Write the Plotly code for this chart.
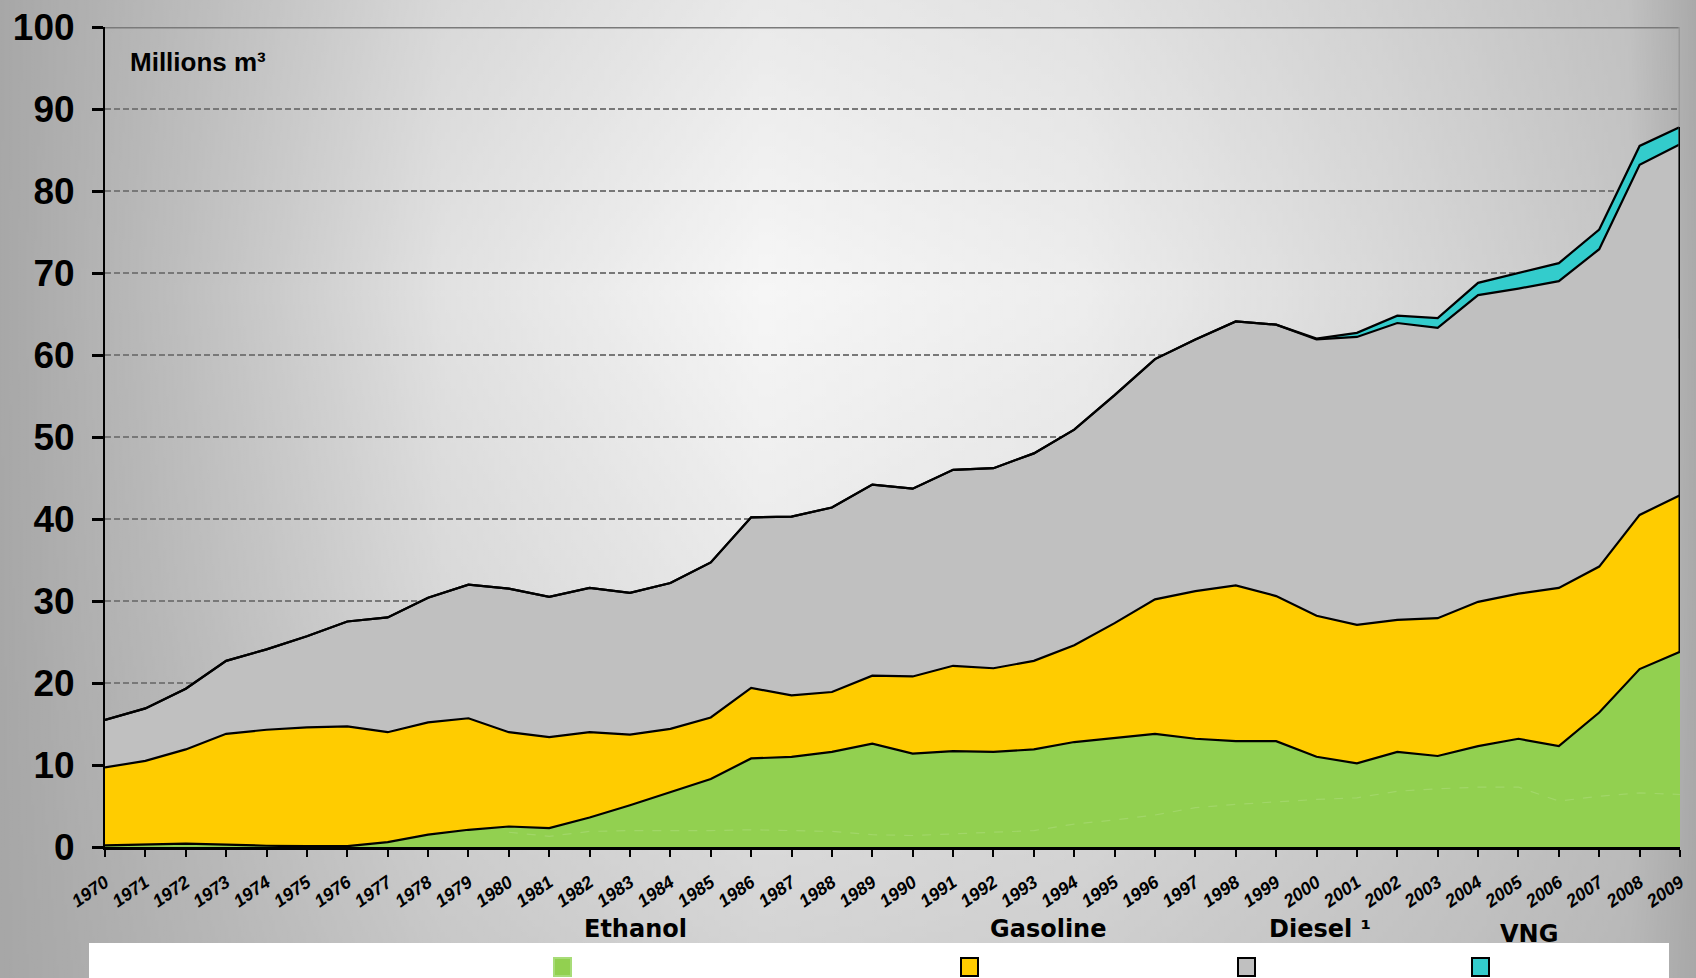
import base64
import plotly.graph_objects as go

# ---------------- data (millions m3) ----------------
years = list(range(1970, 2010))
ethanol = [0.2, 0.3, 0.4, 0.3, 0.15, 0.1, 0.1, 0.6, 1.5, 2.1,
           2.5, 2.3, 3.6, 5.1, 6.7, 8.3, 10.8, 11.0, 11.6, 12.6,
           11.4, 11.7, 11.6, 11.9, 12.8, 13.3, 13.8, 13.2, 12.9, 12.9,
           11.0, 10.2, 11.6, 11.1, 12.3, 13.2, 12.3, 16.4, 21.7, 23.8]
gasoline = [9.5, 10.2, 11.5, 13.5, 14.15, 14.5, 14.6, 13.4, 13.7, 13.6,
            11.5, 11.1, 10.4, 8.6, 7.7, 7.5, 8.6, 7.5, 7.3, 8.3,
            9.4, 10.4, 10.2, 10.8, 11.8, 14.0, 16.4, 18.0, 19.0, 17.7,
            17.2, 16.9, 16.1, 16.8, 17.6, 17.7, 19.3, 17.8, 18.8, 19.1]
diesel = [5.8, 6.4, 7.4, 8.9, 9.8, 11.1, 12.8, 14.0, 15.2, 16.3,
          17.5, 17.1, 17.6, 17.3, 17.8, 18.9, 20.8, 21.8, 22.5, 23.3,
          22.9, 23.9, 24.4, 25.3, 26.3, 27.8, 29.3, 30.7, 32.2, 33.1,
          33.7, 35.1, 36.2, 35.4, 37.4, 37.2, 37.4, 38.7, 42.7, 42.8]
vng = [0] * 30 + [0.1, 0.5, 0.9, 1.2, 1.5, 1.9, 2.2, 2.4, 2.3, 2.1]
# faint inner line inside the ethanol area (1980-2009)
ethanol_inner_years = list(range(1980, 2010))
ethanol_inner = [1.8, 1.3, 1.9, 2.0, 2.0, 2.0, 2.1, 2.0, 1.9, 1.5,
                 1.4, 1.6, 1.8, 2.0, 2.8, 3.3, 3.9, 4.8, 5.2, 5.5,
                 5.8, 6.0, 6.8, 7.1, 7.3, 7.3, 5.6, 6.2, 6.6, 6.4]

series_names = ["Ethanol", "Gasoline", "Diesel ¹", "VNG"]
series_colors = ["#92d050", "#ffcc00", "#c0c0c0", "#33cccc"]
y_ticks = list(range(0, 101, 10))
unit_label = "Millions m³"

# ---------------- layout geometry ----------------
W, H = 1696, 978
ML, MR, MT, MB = 105, 16, 27, 131
PW, PH = W - ML - MR, H - MT - MB


def px_x(px):
    return (px - ML) / PW


def px_y(py):
    return (H - MB - py) / PH


fig = go.Figure()
for name, vals, col in zip(series_names, [ethanol, gasoline, diesel, vng], series_colors):
    fig.add_trace(go.Scatter(
        x=years, y=vals, name=name, stackgroup="one", mode="lines",
        line=dict(color="black", width=2.2), fillcolor=col,
        hoverinfo="skip", showlegend=False,
    ))

fig.add_trace(go.Scatter(
    x=ethanol_inner_years, y=ethanol_inner, mode="lines",
    line=dict(color="rgba(255,255,255,0.14)", width=1.2, dash="dash"),
    hoverinfo="skip", showlegend=False,
))

# background gradient (horizontal profile modulated vertically)
h_stops = [(0.0, 0.02), (0.12, 0.31), (0.26, 0.67), (0.45, 0.9), (0.64, 0.8),
           (0.83, 0.56), (0.96, 0.36), (0.99, 0.13), (1.0, 0.05)]
v_stops = [(0.0, 0.84), (0.3, 1.0), (0.6, 0.85), (0.87, 0.64), (1.0, 0.55)]
h_svg = "".join(f'<stop offset="{o}" stop-color="#ffffff" stop-opacity="{a}"/>' for o, a in h_stops)
v_svg = "".join(f'<stop offset="{o}" stop-color="#ffffff" stop-opacity="{a}"/>' for o, a in v_stops)
svg = (
    '<svg xmlns="http://www.w3.org/2000/svg" width="1696" height="978">'
    '<defs>'
    f'<linearGradient id="h" x1="0" y1="0" x2="1" y2="0">{h_svg}</linearGradient>'
    f'<linearGradient id="v" x1="0" y1="0" x2="0" y2="1">{v_svg}</linearGradient>'
    '<mask id="m"><rect x="0" y="0" width="1696" height="978" fill="url(#v)"/></mask>'
    '</defs>'
    '<rect x="0" y="0" width="1696" height="978" fill="#a6a6a6"/>'
    '<rect x="0" y="0" width="1696" height="978" fill="url(#h)" mask="url(#m)"/>'
    '</svg>'
)
src = "data:image/svg+xml;base64," + base64.b64encode(svg.encode()).decode()

shapes = []
shapes.append(dict(type="line", xref="x", yref="y", x0=years[0], x1=years[-1], y0=100, y1=100,
                   line=dict(color="#7a7a7a", width=3), layer="above"))
shapes.append(dict(type="line", xref="x", yref="y", x0=years[-1], x1=years[-1], y0=62, y1=100,
                   line=dict(color="#999999", width=3), layer="above"))
top_last = ethanol[-1] + gasoline[-1] + diesel[-1] + vng[-1]
shapes.append(dict(type="line", xref="x", yref="y", x0=years[-1], x1=years[-1], y0=ethanol[-1], y1=top_last,
                   line=dict(color="black", width=3), layer="above"))
shapes.append(dict(type="rect", xref="paper", yref="paper", x0=px_x(89), x1=px_x(1669),
                   y0=px_y(943), y1=px_y(985), fillcolor="white", line=dict(width=0), layer="above"))

sq_x = [554, 961, 1238, 1472]
label_x = [635, 1048, 1320, 1529]
label_y = [929, 929, 929, 934]
annotations = []
for i, (name, col) in enumerate(zip(series_names, series_colors)):
    border = "#a8dc78" if i == 0 else "black"
    shapes.append(dict(type="rect", xref="paper", yref="paper",
                       x0=px_x(sq_x[i]), x1=px_x(sq_x[i] + 17), y0=px_y(976), y1=px_y(958),
                       fillcolor=col, line=dict(color=border, width=2), layer="above"))
    annotations.append(dict(text=name, xref="paper", yref="paper", x=px_x(label_x[i]), y=px_y(label_y[i]),
                            xanchor="center", yanchor="middle", showarrow=False,
                            font=dict(family="DejaVu Sans", size=24, color="black", weight="bold")))

annotations.append(dict(text=unit_label, xref="paper", yref="paper", x=px_x(128), y=px_y(62),
                        xanchor="left", yanchor="middle", showarrow=False,
                        font=dict(family="Liberation Sans", size=26, color="black", weight="bold")))

fig.update_layout(
    width=W, height=H,
    margin=dict(l=ML, r=MR, t=MT, b=MB, autoexpand=False),
    paper_bgcolor="rgba(0,0,0,0)", plot_bgcolor="rgba(0,0,0,0)",
    images=[dict(source=src, xref="paper", yref="paper", x=px_x(0), y=px_y(0),
                 sizex=W / PW, sizey=H / PH, xanchor="left", yanchor="top",
                 sizing="stretch", layer="below")],
    shapes=shapes, annotations=annotations,
    showlegend=False,
    xaxis=dict(range=[years[0], years[-1]], tickvals=years, ticktext=[str(y) for y in years],
               tickangle=-35, showgrid=False, zeroline=False,
               showline=True, linecolor="black", linewidth=3,
               ticks="outside", ticklen=7, tickwidth=2, tickcolor="black",
               ticklabelstandoff=8,
               tickfont=dict(family="Liberation Sans", size=18, color="black", weight="bold", style="italic")),
    yaxis=dict(range=[0, 100], tickvals=y_ticks, showgrid=True, gridcolor="#787878", gridwidth=2,
               griddash="6px,3px", zeroline=False,
               showline=True, linecolor="black", linewidth=2,
               ticks="outside", ticklen=11, tickwidth=3, tickcolor="black",
               ticklabelstandoff=10,
               tickfont=dict(family="Liberation Sans", size=37, color="black", weight="bold")),
)

fig.write_html("out.html", config={"displayModeBar": False},
               post_script="document.body.style.margin='0';")
